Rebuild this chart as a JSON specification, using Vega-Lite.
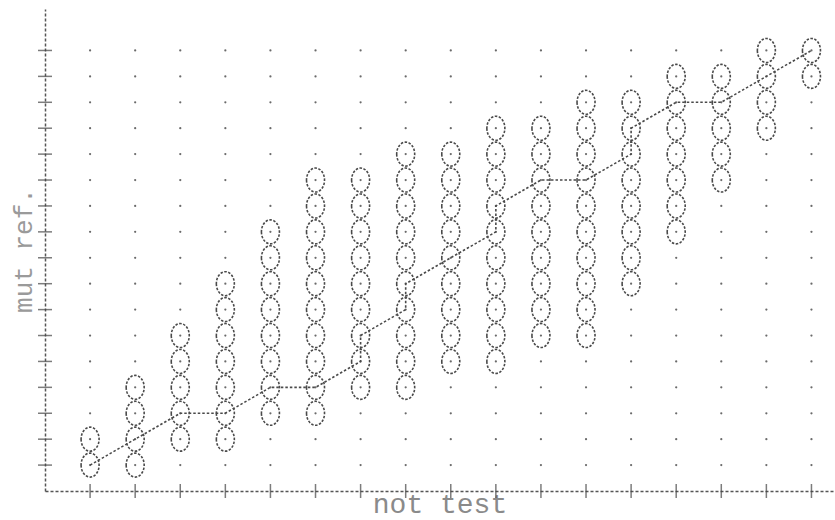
{
  "$schema": "https://vega.github.io/schema/vega-lite/v6.json",
  "autosize": {"type": "none"},
  "padding": {"left": 45, "top": 9, "right": 1, "bottom": 29},
  "width": 789,
  "height": 482,
  "background": "white",
  "config": {
    "view": {"stroke": null},
    "axis": {
      "ticks": false,
      "labels": false,
      "grid": false,
      "domainColor": "#555555",
      "domainDash": [3, 2],
      "domainWidth": 1.5,
      "titleFont": "Liberation Mono",
      "titleFontWeight": "normal",
      "titleColor": "#8a8a8a"
    },
    "axisX": {"titleFontSize": 28, "titlePadding": -1},
    "axisY": {"titleFontSize": 26, "titlePadding": 9, "titleColor": "#9a9a9a"}
  },
  "datasets": {
    "grid": [
      {"x": 1, "y": [1,2,3,4,5,6,7,8,9,10,11,12,13,14,15,16,17]},
      {"x": 2, "y": [1,2,3,4,5,6,7,8,9,10,11,12,13,14,15,16,17]},
      {"x": 3, "y": [1,2,3,4,5,6,7,8,9,10,11,12,13,14,15,16,17]},
      {"x": 4, "y": [1,2,3,4,5,6,7,8,9,10,11,12,13,14,15,16,17]},
      {"x": 5, "y": [1,2,3,4,5,6,7,8,9,10,11,12,13,14,15,16,17]},
      {"x": 6, "y": [1,2,3,4,5,6,7,8,9,10,11,12,13,14,15,16,17]},
      {"x": 7, "y": [1,2,3,4,5,6,7,8,9,10,11,12,13,14,15,16,17]},
      {"x": 8, "y": [1,2,3,4,5,6,7,8,9,10,11,12,13,14,15,16,17]},
      {"x": 9, "y": [1,2,3,4,5,6,7,8,9,10,11,12,13,14,15,16,17]},
      {"x": 10, "y": [1,2,3,4,5,6,7,8,9,10,11,12,13,14,15,16,17]},
      {"x": 11, "y": [1,2,3,4,5,6,7,8,9,10,11,12,13,14,15,16,17]},
      {"x": 12, "y": [1,2,3,4,5,6,7,8,9,10,11,12,13,14,15,16,17]},
      {"x": 13, "y": [1,2,3,4,5,6,7,8,9,10,11,12,13,14,15,16,17]},
      {"x": 14, "y": [1,2,3,4,5,6,7,8,9,10,11,12,13,14,15,16,17]},
      {"x": 15, "y": [1,2,3,4,5,6,7,8,9,10,11,12,13,14,15,16,17]},
      {"x": 16, "y": [1,2,3,4,5,6,7,8,9,10,11,12,13,14,15,16,17]},
      {"x": 17, "y": [1,2,3,4,5,6,7,8,9,10,11,12,13,14,15,16,17]}
    ],
    "ticks": [
      {"t": [1,2,3,4,5,6,7,8,9,10,11,12,13,14,15,16,17]}
    ],
    "circles": [
      {"x": 1, "y": [1,2]},
      {"x": 2, "y": [1,2,3,4]},
      {"x": 3, "y": [2,3,4,5,6]},
      {"x": 4, "y": [2,3,4,5,6,7,8]},
      {"x": 5, "y": [3,4,5,6,7,8,9,10]},
      {"x": 6, "y": [3,4,5,6,7,8,9,10,11,12]},
      {"x": 7, "y": [4,5,6,7,8,9,10,11,12]},
      {"x": 8, "y": [4,5,6,7,8,9,10,11,12,13]},
      {"x": 9, "y": [5,6,7,8,9,10,11,12,13]},
      {"x": 10, "y": [5,6,7,8,9,10,11,12,13,14]},
      {"x": 11, "y": [6,7,8,9,10,11,12,13,14]},
      {"x": 12, "y": [6,7,8,9,10,11,12,13,14,15]},
      {"x": 13, "y": [8,9,10,11,12,13,14,15]},
      {"x": 14, "y": [10,11,12,13,14,15,16]},
      {"x": 15, "y": [12,13,14,15,16]},
      {"x": 16, "y": [14,15,16,17]},
      {"x": 17, "y": [16,17]}
    ],
    "line": [
      {"i": 1, "x": 1, "y": 1},
      {"i": 2, "x": 2, "y": 2},
      {"i": 3, "x": 3, "y": 3},
      {"i": 4, "x": 4, "y": 3},
      {"i": 5, "x": 5, "y": 4},
      {"i": 6, "x": 6, "y": 4},
      {"i": 7, "x": 7, "y": 5},
      {"i": 8, "x": 7, "y": 6},
      {"i": 9, "x": 8, "y": 7},
      {"i": 10, "x": 8, "y": 8},
      {"i": 11, "x": 9, "y": 9},
      {"i": 12, "x": 10, "y": 10},
      {"i": 13, "x": 10, "y": 11},
      {"i": 14, "x": 11, "y": 12},
      {"i": 15, "x": 12, "y": 12},
      {"i": 16, "x": 13, "y": 13},
      {"i": 17, "x": 13, "y": 14},
      {"i": 18, "x": 14, "y": 15},
      {"i": 19, "x": 15, "y": 15},
      {"i": 20, "x": 16, "y": 16},
      {"i": 21, "x": 17, "y": 17}
    ]
  },
  "layer": [
    {
      "data": {"name": "grid"},
      "transform": [{"flatten": ["y"]}],
      "mark": {"type": "point", "filled": true, "shape": "circle", "size": 5, "color": "#6a6a6a", "opacity": 1},
      "encoding": {
        "x": {"field": "x", "type": "quantitative", "title": "not test", "scale": {"domain": [0, 17.5], "nice": false, "zero": false}},
        "y": {"field": "y", "type": "quantitative", "title": "mut ref.", "scale": {"domain": [0, 18.6], "nice": false, "zero": false}}
      }
    },
    {
      "data": {"name": "ticks"},
      "transform": [{"flatten": ["t"]}],
      "mark": {"type": "tick", "orient": "horizontal", "size": 14, "thickness": 1.5, "color": "#444444"},
      "encoding": {
        "x": {"datum": 0, "type": "quantitative", "title": "not test"},
        "y": {"field": "t", "type": "quantitative", "title": "mut ref."}
      }
    },
    {
      "data": {"name": "ticks"},
      "transform": [{"flatten": ["t"]}],
      "mark": {"type": "tick", "orient": "vertical", "size": 14, "thickness": 1.5, "color": "#444444"},
      "encoding": {
        "x": {"field": "t", "type": "quantitative", "title": "not test"},
        "y": {"datum": 0, "type": "quantitative", "title": "mut ref."}
      }
    },
    {
      "data": {"name": "circles"},
      "transform": [{"flatten": ["y"]}],
      "mark": {
        "type": "point",
        "filled": false,
        "shape": "M -0.75 0 A 0.75 1 0 1 0 0.75 0 A 0.75 1 0 1 0 -0.75 0 Z",
        "size": 576,
        "stroke": "#4a4a4a",
        "strokeWidth": 1.6,
        "strokeDash": [2.5, 1.5],
        "opacity": 1
      },
      "encoding": {
        "x": {"field": "x", "type": "quantitative", "title": "not test"},
        "y": {"field": "y", "type": "quantitative", "title": "mut ref."}
      }
    },
    {
      "data": {"name": "line"},
      "mark": {"type": "line", "color": "#4a4a4a", "strokeWidth": 1.6, "strokeDash": [2.5, 2]},
      "encoding": {
        "x": {"field": "x", "type": "quantitative", "title": "not test"},
        "y": {"field": "y", "type": "quantitative", "title": "mut ref."},
        "order": {"field": "i", "type": "quantitative"}
      }
    }
  ]
}
